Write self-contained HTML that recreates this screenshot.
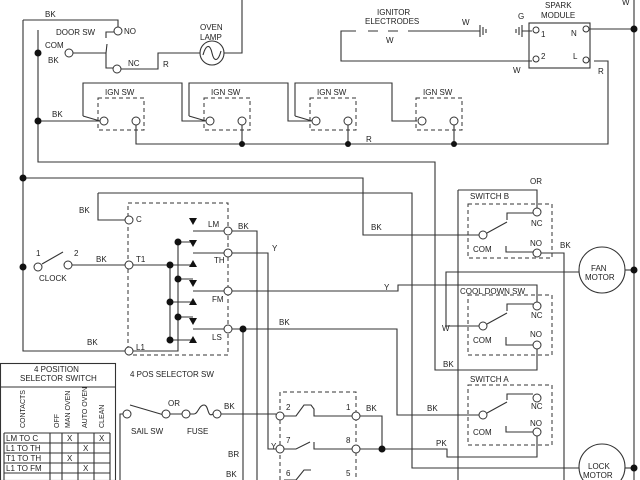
<!DOCTYPE html>
<html><head><meta charset="utf-8"><style>
html,body{margin:0;padding:0;background:#fff}
svg{display:block}
text{font-family:"Liberation Sans",sans-serif;font-size:8px;fill:#222}
</style></head><body>
<svg width="640" height="480" viewBox="0 0 640 480" xmlns="http://www.w3.org/2000/svg">
<g stroke="#333" stroke-width="1.1" fill="none">
<path d="M23 20V351H129"/>
<path d="M23 20H118V27"/>
<path d="M38 30V162H435V370H537V356"/>
<path d="M634 0V480"/>
<path d="M242 0V53H224"/>
<path d="M73 53H106V68H113"/>
<path d="M106 53L107 44"/><path d="M106 38V32H114"/>
<path d="M121 69H158V53H200"/>
<circle cx="212" cy="53" r="12"/>
<path d="M203 55C206 44 210 44 212 53S218 62 221 51"/>
<path d="M38 121H100"/>
<path d="M83 116V83H182V121H205"/><path d="M83 116L100 121"/>
<path d="M189 116V83H288V121H311"/><path d="M189 116L206 121"/>
<path d="M295 116V83H392V121H417"/><path d="M295 116L312 121"/>
<path d="M136 125V144H608V61H594"/>
<path d="M242 125V144M348 125V144M454 125V144"/>
<rect x="529" y="23" width="61" height="45"/>
<path d="M590 29H634"/>
<path d="M532 61H341V31H356M368 31H378M388 31H398M408 31H480"/>
<path d="M480 25V37M483 27V35M486 29V33"/>
<path d="M532 31H522M522 25V37M519 27V35M516 29V33"/>
<path d="M23 178H363V235H479"/>
<path d="M98 193H412V468H579"/>
<path d="M98 193V220H125"/>
<path d="M42 264L63 252"/>
<path d="M72 265H125"/>
<path d="M133 265H193M178 240V351H129"/>
<path d="M170 265V340"/>
<path d="M178 242H193M178 279H193M178 317H193M170 302H193M170 340H193"/>
<path d="M193 231H224M193 253H224M193 291H224M193 329H224"/>
<path d="M232 231H257V480"/>
<path d="M232 253H268V449H276"/>
<path d="M232 291H398V285H537V302"/>
<path d="M232 329H397V415H479"/>
<path d="M243 329V480"/>
<path d="M458 190H537V208"/><path d="M458 190V480"/>
<path d="M487 233L507 222M507 220V213H533"/>
<path d="M506 246V252H533"/>
<path d="M541 253H564V480"/>
<circle cx="602" cy="270" r="23"/>
<path d="M625 270H634"/>
<path d="M579 272H446V326H479"/>
<path d="M487 324L507 313M507 311V304H533"/>
<path d="M506 337V345H533"/>
<path d="M537 349V356"/>
<path d="M487 413L507 402M507 400V394H533"/>
<path d="M506 426V432H533"/>
<path d="M537 436V457H447V449H356"/>
<circle cx="602" cy="467" r="23"/>
<path d="M625 468H634"/>
<path d="M120 480V414H123"/>
<path d="M130 405L164 415"/>
<path d="M170 414H182M190 414H194C198 414 199 405 204 405C209 405 207 418 213 414"/>
<path d="M221 414H276"/>
<path d="M360 416H382V449"/>
<path d="M284 416H296L304 405H311L314 409V416H356"/>
<path d="M284 449H296L310 442M314 442V449H352"/>
<path d="M284 480H296L304 470H311"/>
<rect x="0.5" y="363.5" width="115" height="117"/>
<path d="M0 387H115"/>
<path d="M4 433H110M4 443H110M4 453H110M4 463H110M4 473H110"/>
<path d="M4 433V480M50 433V480M62 433V480M78 433V480M94 433V480M110 433V480"/>
</g>
<g stroke="#333" stroke-width="1" fill="none" stroke-dasharray="4,3">
<rect x="98" y="98" width="46" height="32"/>
<rect x="204" y="98" width="46" height="32"/>
<rect x="310" y="98" width="46" height="32"/>
<rect x="416" y="98" width="46" height="32"/>
<rect x="128" y="203" width="100" height="152"/>
<rect x="468" y="204" width="84" height="54"/>
<rect x="468" y="295" width="84" height="60"/>
<rect x="468" y="385" width="84" height="60"/>
<path d="M280 480V392H356V480"/>
</g>
<g fill="#fff" stroke="#333" stroke-width="1">
<circle cx="118" cy="31" r="4"/><circle cx="69" cy="53" r="4"/><circle cx="117" cy="69" r="4"/>
<circle cx="104" cy="121" r="4"/><circle cx="136" cy="121" r="4"/>
<circle cx="210" cy="121" r="4"/><circle cx="242" cy="121" r="4"/>
<circle cx="316" cy="121" r="4"/><circle cx="348" cy="121" r="4"/>
<circle cx="422" cy="121" r="4"/><circle cx="454" cy="121" r="4"/>
<circle cx="129" cy="220" r="4"/><circle cx="129" cy="265" r="4"/><circle cx="129" cy="351" r="4"/>
<circle cx="228" cy="231" r="4"/><circle cx="228" cy="253" r="4"/><circle cx="228" cy="291" r="4"/><circle cx="228" cy="329" r="4"/>
<circle cx="38" cy="267" r="4"/><circle cx="68" cy="265" r="4"/>
<circle cx="537" cy="212" r="4"/><circle cx="483" cy="235" r="4"/><circle cx="537" cy="253" r="4"/>
<circle cx="537" cy="306" r="4"/><circle cx="483" cy="326" r="4"/><circle cx="537" cy="345" r="4"/>
<circle cx="537" cy="398" r="4"/><circle cx="483" cy="415" r="4"/><circle cx="537" cy="432" r="4"/>
<circle cx="127" cy="414" r="4"/><circle cx="166" cy="414" r="4"/><circle cx="186" cy="414" r="4"/><circle cx="217" cy="414" r="4"/>
<circle cx="280" cy="416" r="4"/><circle cx="356" cy="416" r="4"/><circle cx="280" cy="449" r="4"/><circle cx="356" cy="449" r="4"/>
<circle cx="536" cy="30" r="3"/><circle cx="536" cy="59" r="3"/><circle cx="586" cy="29" r="3"/><circle cx="586" cy="60" r="3"/>
</g>
<g fill="#111">
<circle cx="23" cy="178" r="3.5"/><circle cx="23" cy="267" r="3.5"/>
<circle cx="38" cy="53" r="3.5"/><circle cx="38" cy="121" r="3.5"/>
<circle cx="242" cy="144" r="3"/><circle cx="348" cy="144" r="3"/><circle cx="454" cy="144" r="3"/>
<circle cx="634" cy="29" r="3.5"/><circle cx="634" cy="270" r="3.5"/><circle cx="634" cy="468" r="3.5"/>
<circle cx="178" cy="242" r="3.5"/><circle cx="178" cy="279" r="3.5"/><circle cx="178" cy="317" r="3.5"/>
<circle cx="170" cy="265" r="3.5"/><circle cx="170" cy="302" r="3.5"/><circle cx="170" cy="340" r="3.5"/>
<circle cx="243" cy="329" r="3.5"/><circle cx="382" cy="449" r="3.5"/>
<path d="M189 218h8l-4 7zM189 240h8l-4 7zM189 280h8l-4 7zM189 318h8l-4 7z"/>
<path d="M189 267h8l-4 -7zM189 305h8l-4 -7zM189 343h8l-4 -7z"/>
</g>
<g>
<text x="45" y="17">BK</text><text x="56" y="35">DOOR SW</text><text x="124" y="34">NO</text>
<text x="45" y="48">COM</text><text x="48" y="63">BK</text><text x="128" y="66">NC</text><text x="163" y="67">R</text>
<text x="200" y="30">OVEN</text><text x="200" y="40">LAMP</text>
<text x="52" y="117">BK</text>
<text x="105" y="95">IGN SW</text><text x="211" y="95">IGN SW</text><text x="317" y="95">IGN SW</text><text x="423" y="95">IGN SW</text>
<text x="366" y="142">R</text>
<text x="377" y="15">IGNITOR</text><text x="365" y="24">ELECTRODES</text><text x="386" y="43">W</text><text x="462" y="25">W</text>
<text x="518" y="19">G</text><text x="545" y="8">SPARK</text><text x="541" y="18">MODULE</text>
<text x="541" y="37">1</text><text x="541" y="59">2</text><text x="571" y="36">N</text><text x="573" y="59">L</text>
<text x="513" y="73">W</text><text x="598" y="74">R</text><text x="622" y="5">W</text>
<text x="79" y="213">BK</text><text x="136" y="222">C</text><text x="36" y="256">1</text><text x="74" y="256">2</text>
<text x="39" y="281">CLOCK</text><text x="96" y="262">BK</text><text x="136" y="262">T1</text>
<text x="208" y="227">LM</text><text x="238" y="229">BK</text><text x="214" y="263">TH</text><text x="272" y="251">Y</text>
<text x="212" y="302">FM</text><text x="384" y="290">Y</text><text x="212" y="340">LS</text><text x="279" y="325">BK</text>
<text x="87" y="345">BK</text><text x="136" y="350">L1</text>
<text x="130" y="377">4 POS SELECTOR SW</text>
<text x="371" y="230">BK</text>
<text x="530" y="184">OR</text><text x="470" y="199">SWITCH B</text><text x="531" y="226">NC</text><text x="530" y="246">NO</text>
<text x="473" y="252">COM</text><text x="560" y="248">BK</text>
<text x="591" y="271" font-size="7">FAN</text><text x="585" y="280" font-size="7">MOTOR</text>
<text x="460" y="294">COOL DOWN SW</text><text x="531" y="318">NC</text><text x="530" y="337">NO</text>
<text x="473" y="343">COM</text><text x="442" y="331">W</text>
<text x="443" y="367">BK</text>
<text x="470" y="382">SWITCH A</text><text x="531" y="409">NC</text><text x="530" y="426">NO</text><text x="473" y="435">COM</text>
<text x="427" y="411">BK</text><text x="436" y="446">PK</text>
<text x="588" y="469" font-size="7">LOCK</text><text x="583" y="478" font-size="7">MOTOR</text>
<text x="168" y="406">OR</text><text x="131" y="434">SAIL SW</text><text x="187" y="434">FUSE</text><text x="224" y="409">BK</text>
<text x="228" y="457">BR</text><text x="226" y="477">BK</text><text x="271" y="449">Y</text>
<text x="286" y="410">2</text><text x="346" y="410">1</text><text x="366" y="411">BK</text>
<text x="286" y="443">7</text><text x="346" y="443">8</text><text x="286" y="476">6</text><text x="346" y="476">5</text>
<text x="34" y="372">4 POSITION</text><text x="20" y="381">SELECTOR SWITCH</text>
<g font-size="7">
<text transform="translate(25,428) rotate(-90)" style="font-size:7px">CONTACTS</text>
<text transform="translate(59,428) rotate(-90)" style="font-size:7px">OFF</text>
<text transform="translate(70,428) rotate(-90)" style="font-size:7px">MAN OVEN</text>
<text transform="translate(87,428) rotate(-90)" style="font-size:7px">AUTO OVEN</text>
<text transform="translate(104,428) rotate(-90)" style="font-size:7px">CLEAN</text>
</g>
<text x="6" y="441">LM TO C</text><text x="6" y="451">L1 TO TH</text><text x="6" y="461">T1 TO TH</text><text x="6" y="471">L1 TO FM</text>
<text x="67" y="441">X</text><text x="99" y="441">X</text><text x="83" y="451">X</text><text x="67" y="461">X</text><text x="83" y="471">X</text>
</g>
</svg>
</body></html>
